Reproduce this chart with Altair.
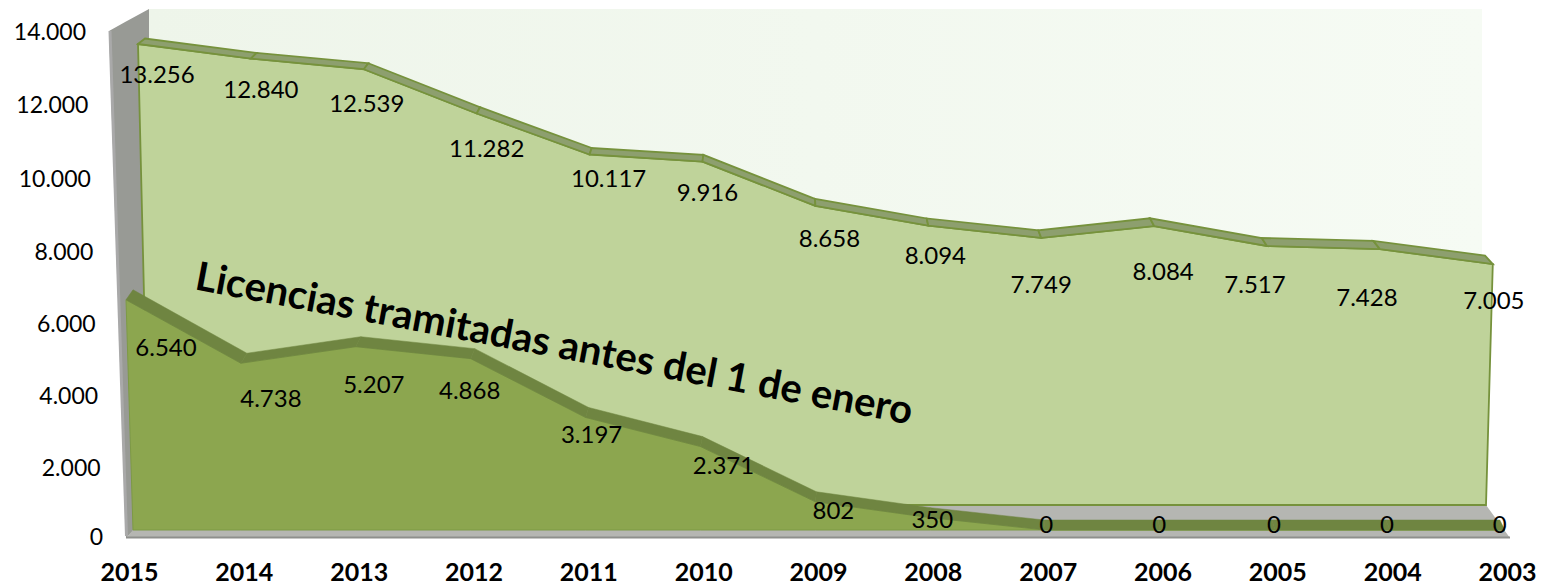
import altair as alt
import pandas as pd

YEARS = [2015, 2014, 2013, 2012, 2011, 2010, 2009, 2008, 2007, 2006, 2005, 2004, 2003]
TOTAL = [13256, 12840, 12539, 11282, 10117, 9916, 8658, 8094, 7749, 8084, 7517, 7428, 7005]
ANTES = [6540, 4738, 5207, 4868, 3197, 2371, 802, 350, 0, 0, 0, 0, 0]
TICKS = [0, 2000, 4000, 6000, 8000, 10000, 12000, 14000]
NOTE = "Licencias tramitadas antes del 1 de enero"
FONT = "Lato"

# label nudges relative to each vertex of its series (manual placement in the original)
TOTAL_DX = [19, 10, 3, 10, 19, 5, 14, 7, 0, 9, -12, -13, 1]
TOTAL_DY = [32, 32, 36, 37, 26, 32, 34, 31, 48, 47, 40, 50, 38]
ANTES_DX = [40, 30, 18, -1, 6, 23, 18, 2, 1, -1, -1, -3, -5]
ANTES_DY = [49, 37, 39, 33, 19, 20, 10, 3, -4, -4, -4, -4, -4]

# plot frame on the page
PX0, PX1, PY0, PY1 = 100, 1536, 9, 538
X_ORIGIN, X_STEP = 129, 114.83
UNIT = 0.0352
BASE_FRONT, BASE_BACK = 530, 510.6


def X(px):
    return (px - X_ORIGIN) / X_STEP


def Y(py):
    return (BASE_FRONT - py) / UNIT


n = len(YEARS)
xs = alt.Scale(domain=[X(PX0), X(PX1)], nice=False, zero=False)
ys = alt.Scale(domain=[Y(PY1), Y(PY0)], nice=False, zero=False)
x_axis = alt.Axis(
    values=list(range(n)),
    labelExpr="'' + (2015 - datum.value)",
    labelFont=FONT,
    labelFontWeight="bold",
    labelFontSize=25,
    labelColor="#000000",
    labelPadding=22,
    labelFlush=False,
    labelOverlap=False,
    domain=False,
    ticks=False,
    grid=False,
    title=None,
)
xe = alt.X("x:Q", scale=xs, axis=x_axis)
ye = alt.Y("y:Q", scale=ys, axis=None)
y2e = alt.Y2("y2:Q")


def frame(points):
    return pd.DataFrame([{"x": X(a), "y": Y(b), "y2": Y(c)} for a, b, c in points])


def lerp(a, b, t):
    return a + (b - a) * t


def area(points, **kw):
    return alt.Chart(frame(points)).mark_area(**kw).encode(x=xe, y=ye, y2=y2e)


def band(front, back, **kw):
    rows = []
    for i in range(len(front) - 1):
        poly = [front[i], front[i + 1], back[i + 1], back[i]]
        for k, (a, b) in enumerate(poly):
            rows.append({"x": X(a), "y": Y(b), "seg": i, "k": k})
    return (
        alt.Chart(pd.DataFrame(rows))
        .mark_line(interpolate="linear-closed", **kw)
        .encode(x=xe, y=ye, detail="seg:N", order="k:Q")
    )


back_front = [(138 + 112.9 * i, BASE_BACK - TOTAL[i] * UNIT) for i in range(n)]
back_back = [(145 + 111.67 * i, BASE_BACK - TOTAL[i] * UNIT - (5.5 + 0.25 * i)) for i in range(n)]
front_front = [(126 + 114.9 * i, BASE_FRONT - ANTES[i] * UNIT) for i in range(n)]
front_back = [(133 + 113.9 * i, BASE_FRONT - ANTES[i] * UNIT - 10) for i in range(n)]

floor = area(
    [(126, 538, 538), (133, 530, 538), (134, 505, 538), (1486, 505, 538), (1510, 538, 538)],
    color="#b5b6b2",
)
floor_edge = alt.Chart(pd.DataFrame({"x": [X(126), X(1510)], "y": [Y(537.5), Y(537.5)]})).mark_line(
    color="#8e8f8c", strokeWidth=2
).encode(x=xe, y=ye)

wall_back = area(
    [(149, 9, 505), (1482, 9, 505)],
    color=alt.Gradient(
        gradient="linear",
        x1=0, x2=1, y1=0, y2=0,
        stops=[alt.GradientStop(offset=0, color="#eef5ea"), alt.GradientStop(offset=1, color="#f6fbf4")],
    ),
)
wall_left = area([(109, 31, 31), (126, 21.6, 538), (132, 18.3, 532), (149, 9, 532)], color="#989a95")
wall_edge = alt.Chart(pd.DataFrame({"x": [X(110), X(126.5)], "y": [Y(31), Y(536)]})).mark_line(
    color="#a9a9a9", strokeWidth=3
).encode(x=xe, y=ye)

# back (total) area
bx = [p[0] for p in back_front]
by = [p[1] for p in back_front]
t_left = (149 - bx[0]) / (bx[1] - bx[0])
t_right = (1486 - bx[-2]) / (bx[-1] - bx[-2])
back_pts = (
    [(bx[0], by[0], by[0]), (149, lerp(by[0], by[1], t_left), 505)]
    + [(bx[i], by[i], 505) for i in range(1, n - 1)]
    + [(1486, lerp(by[-2], by[-1], t_right), 505), (bx[-1], by[-1], by[-1])]
)
back_area = area(back_pts, color="#bfd39a", stroke="#76923c", strokeWidth=1.8)
back_band = band(back_front, back_back, fill="#8d9f6e", stroke="#76923c", strokeWidth=1.8)

# front (before 1 Jan) area
fx = [p[0] for p in front_front]
fy = [p[1] for p in front_front]
t0 = (133 - fx[0]) / (fx[1] - fx[0])
front_pts = (
    [(fx[0], fy[0], fy[0]), (133, lerp(fy[0], fy[1], t0), 530)]
    + [(fx[i], fy[i], 530) for i in range(1, n)]
)
front_area = area(front_pts, color="#8ca64f", stroke="#7d9a45", strokeWidth=1)
front_band = band(front_front, front_back, fill="#6f8541", stroke="#6f8541", strokeWidth=0.5)


def val_text(v):
    return f"{v:,}".replace(",", ".")


labels = []
for i in range(n):
    labels.append(
        {
            "x": X(back_front[i][0] + TOTAL_DX[i]),
            "y": Y(back_front[i][1] + TOTAL_DY[i]),
            "t": val_text(TOTAL[i]),
        }
    )
    labels.append(
        {
            "x": X(front_front[i][0] + ANTES_DX[i]),
            "y": Y(front_front[i][1] + ANTES_DY[i]),
            "t": val_text(ANTES[i]),
        }
    )
data_labels = alt.Chart(pd.DataFrame(labels)).mark_text(
    font=FONT, fontSize=24, color="#000000", baseline="middle", align="center"
).encode(x=xe, y=ye, text="t:N")

# y-axis labels lean with the wall, on the axis' own scale
ax_y = alt.Scale(type="pow", exponent=1.02, domain=[0, 14652], nice=False, zero=False)
tick_df = pd.DataFrame(
    {
        "v": TICKS,
        "t": [val_text(v) for v in TICKS],
        "x": [X(103 - 17 * v / 14000) for v in TICKS],
    }
)
y_labels = alt.Chart(tick_df).mark_text(
    font=FONT, fontSize=23, color="#000000", baseline="middle", align="right"
).encode(x=xe, y=alt.Y("v:Q", scale=ax_y, axis=None), text="t:N")

note = alt.Chart(pd.DataFrame({"t": [NOTE]})).mark_text(
    font=FONT, fontSize=40, fontWeight="bold", color="#000000", angle=10.7, align="center", baseline="middle"
).encode(x=alt.value(554 - PX0), y=alt.value(345 - PY0), text="t:N")

chart = (
    alt.layer(
        wall_back, wall_left, wall_edge, floor, floor_edge,
        back_area, back_band, front_area, front_band,
        data_labels, y_labels, note,
    )
    .resolve_scale(y="independent")
    .properties(
        width=PX1 - PX0,
        height=PY1 - PY0,
        autosize=alt.AutoSizeParams(type="none"),
        padding={"left": PX0 - 8, "top": PY0 - 8, "right": 0, "bottom": 49},
        background="#ffffff",
    )
    .configure_view(stroke=None)
)

chart.save("out.html", embed_options={"renderer": "svg", "actions": False})
